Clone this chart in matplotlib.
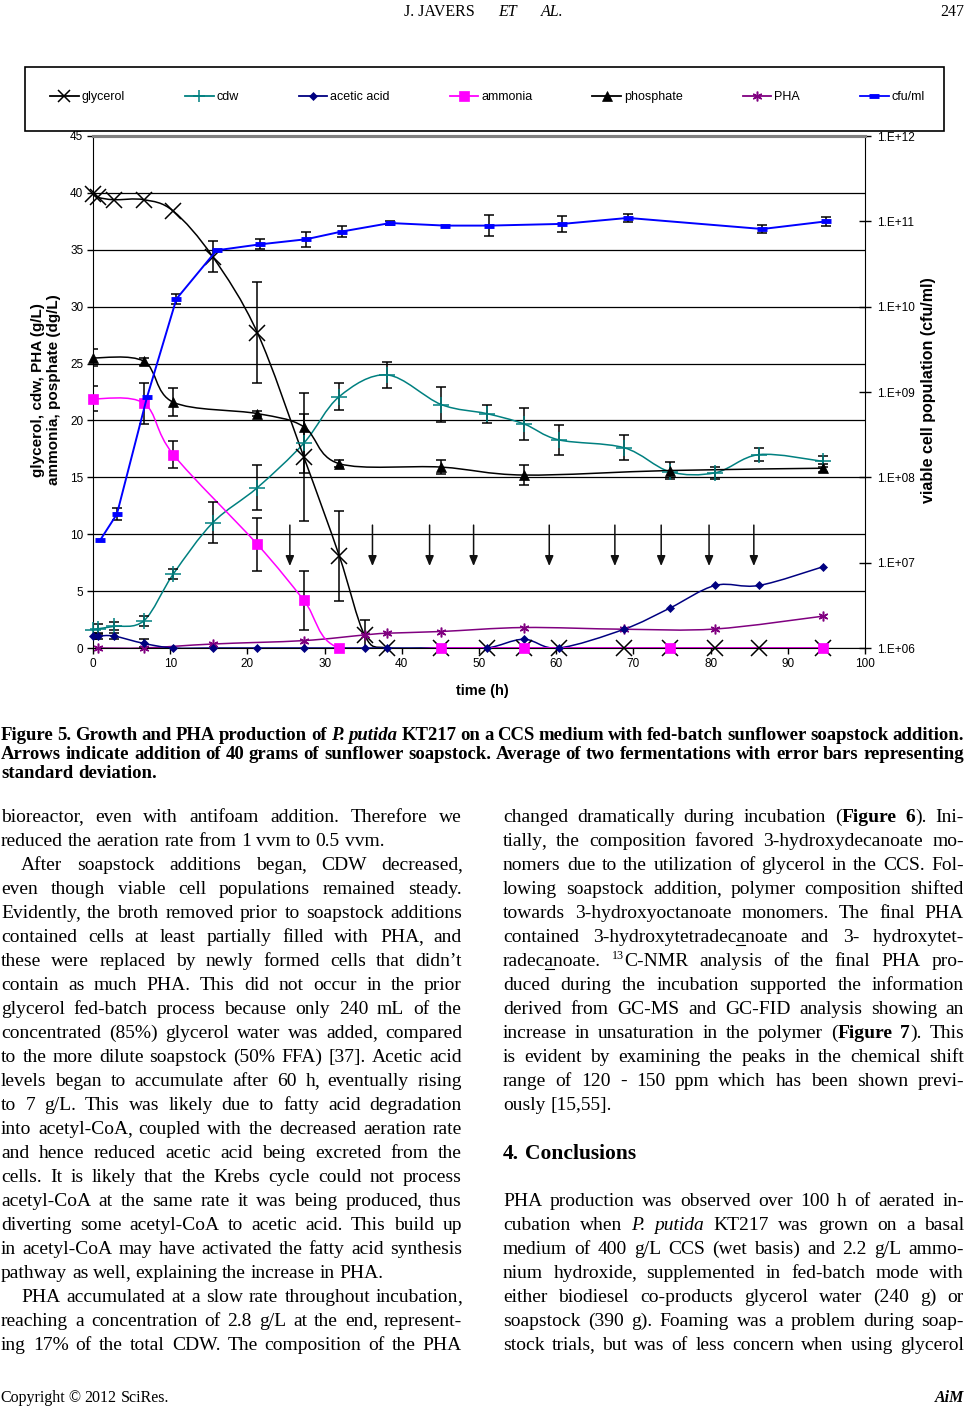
import re
import numpy as np
import matplotlib
matplotlib.use("Agg")
import matplotlib.pyplot as plt
from matplotlib.path import Path
from matplotlib.patches import PathPatch, Rectangle
from matplotlib.lines import Line2D
from matplotlib.ticker import NullLocator

plt.rcParams['font.family'] = ['Liberation Sans', 'DejaVu Sans']

W, H = 966, 1414

# ---- values (time in h) ----
t_gly = [0, 0.7, 2.7, 6.6, 10.4, 15.5, 21.3, 27.3, 31.9, 35.2, 38.1, 45.1, 51.0, 55.8, 60.3, 68.8, 74.7, 80.6, 86.3, 94.6]
gly = [39.9, 39.6, 39.4, 39.4, 38.4, 34.4, 27.7, 16.8, 8.1, 1.1, 0, 0, 0, 0, 0, 0, 0, 0, 0, 0]
gly_err = [0, 0, 0, 0, 0, 1.35, 4.45, 5.6, 3.95, 1.4, 0, 0, 0, 0, 0, 0, 0, 0, 0, 0]

t_cdw = [0, 0.7, 2.7, 6.6, 10.4, 15.5, 21.3, 27.3, 31.9, 38.1, 45.1, 51.0, 55.8, 60.3, 68.8, 74.7, 80.6, 86.3, 94.6]
cdw = [1.6, 1.7, 1.9, 2.4, 6.5, 11.0, 14.1, 18.0, 22.1, 24.0, 21.4, 20.6, 19.7, 18.3, 17.6, 15.5, 15.4, 17.0, 16.4]
cdw_err = [0, 0.45, 0.35, 0.45, 0.4, 1.8, 2.0, 2.6, 1.2, 1.15, 1.5, 0.8, 1.4, 1.3, 1.1, 0, 0.55, 0.55, 0.45]

t_ace = [0, 0.7, 2.7, 6.6, 10.4, 15.5, 21.3, 27.3, 31.9, 35.2, 38.1, 45.1, 51.0, 55.8, 60.3, 68.8, 74.7, 80.6, 86.3, 94.6]
ace = [1.05, 1.05, 1.05, 0.4, 0, 0, 0, 0, 0, 0, 0, 0, 0, 0.77, 0, 1.65, 3.5, 5.5, 5.5, 7.15]
ace_err = [0.3, 0.3, 0.3, 0.35, 0, 0, 0, 0, 0, 0, 0, 0, 0, 0, 0, 0, 0, 0, 0, 0]

t_amm = [0, 6.6, 10.4, 21.3, 27.3, 31.9, 45.1, 55.8, 74.7, 94.6]
amm = [21.9, 21.5, 17.0, 9.1, 4.2, 0, 0, 0, 0, 0]
amm_err = [1.1, 1.8, 1.2, 2.3, 2.6, 0, 0, 0, 0, 0]

t_pho = [0, 6.6, 10.4, 21.3, 27.3, 31.9, 45.1, 55.8, 74.7, 94.6]
pho = [25.5, 25.2, 21.6, 20.6, 19.45, 16.2, 15.9, 15.2, 15.6, 15.8]
pho_err = [0.75, 0.3, 1.25, 0.2, 0, 0.3, 0.65, 0.85, 0.75, 0.35]

t_pha = [0.7, 6.6, 15.5, 27.3, 35.2, 38.1, 45.1, 55.8, 68.8, 80.6, 94.6]
pha = [0, 0, 0.35, 0.65, 1.15, 1.3, 1.45, 1.8, 1.65, 1.67, 2.8]

t_cfu = [0.9, 3.1, 7.0, 10.8, 16.0, 21.6, 27.6, 32.2, 38.5, 45.6, 51.3, 60.8, 69.3, 86.7, 95.0]
cfu_log = [7.26, 7.57, 8.94, 10.09, 10.66, 10.73, 10.79, 10.88, 10.98, 10.95, 10.95, 10.97, 11.04, 10.91, 11.0]
cfu_log_err = [0, 0.073, 0, 0.055, 0, 0.059, 0.088, 0.068, 0.025, 0, 0.127, 0.091, 0.047, 0.045, 0.053]

t_feed = [25.5, 36.2, 43.6, 49.3, 59.1, 67.6, 73.6, 79.8, 85.6]

x_ticks = list(range(0, 101, 10))
y_ticks = list(range(0, 46, 5))
log_ticks = [6, 7, 8, 9, 10, 11, 12]

series_names = ['glycerol', 'cdw', 'acetic acid', 'ammonia', 'phosphate', 'PHA', 'cfu/ml']

# ---- page text ----
header_words = "J.\u00a0JAVERS *ET* *AL.*"
page_no = "247"
caption = [
    "Figure 5. Growth and PHA production of *P. putida* KT217 on a CCS medium with fed-batch sunflower soapstock addition.",
    "Arrows indicate addition of 40 grams of sunflower soapstock. Average of two fermentations with error bars representing",
    "standard deviation.",
]
left_lines = [
    "bioreactor, even with antifoam addition. Therefore we",
    "reduced the aeration rate from 1 vvm to 0.5 vvm.",
    "After soapstock additions began, CDW decreased,",
    "even though viable cell populations remained steady.",
    "Evidently, the broth removed prior to soapstock additions",
    "contained cells at least partially filled with PHA, and",
    "these were replaced by newly formed cells that didn\u2019t",
    "contain as much PHA. This did not occur in the prior",
    "glycerol fed-batch process because only 240 mL of the",
    "concentrated (85%) glycerol water was added, compared",
    "to the more dilute soapstock (50% FFA) [37]. Acetic acid",
    "levels began to accumulate after 60 h, eventually rising",
    "to 7 g/L. This was likely due to fatty acid degradation",
    "into acetyl-CoA, coupled with the decreased aeration rate",
    "and hence reduced acetic acid being excreted from the",
    "cells. It is likely that the Krebs cycle could not process",
    "acetyl-CoA at the same rate it was being produced, thus",
    "diverting some acetyl-CoA to acetic acid. This build up",
    "in acetyl-CoA may have activated the fatty acid synthesis",
    "pathway as well, explaining the increase in PHA.",
    "PHA accumulated at a slow rate throughout incubation,",
    "reaching a concentration of 2.8 g/L at the end, represent-",
    "ing 17% of the total CDW. The composition of the PHA",
]
left_indent = [2, 20]
left_last = [1, 19]
right_lines = [
    "changed dramatically during incubation (**Figure 6**). Ini-",
    "tially, the composition favored 3-hydroxydecanoate mo-",
    "nomers due to the utilization of glycerol in the CCS. Fol-",
    "lowing soapstock addition, polymer composition shifted",
    "towards 3-hydroxyoctanoate monomers. The final PHA",
    "contained 3-hydroxytetradec_a_noate and 3- hydroxytet-",
    "radec_a_noate. ^13^C-NMR analysis of the final PHA pro-",
    "duced during the incubation supported the information",
    "derived from GC-MS and GC-FID analysis showing an",
    "increase in unsaturation in the polymer (**Figure 7**). This",
    "is evident by examining the peaks in the chemical shift",
    "range of 120 - 150 ppm which has been shown previ-",
    "ously [15,55].",
]
right_last = [12]
heading = "4. Conclusions"
concl_lines = [
    "PHA production was observed over 100 h of aerated in-",
    "cubation when *P. putida* KT217 was grown on a basal",
    "medium of 400 g/L CCS (wet basis) and 2.2 g/L ammo-",
    "nium hydroxide, supplemented in fed-batch mode with",
    "either biodiesel co-products glycerol water (240 g) or",
    "soapstock (390 g). Foaming was a problem during soap-",
    "stock trials, but was of less concern when using glycerol",
]
footer_left = "Copyright \u00a9 2012 SciRes."
footer_right = "AiM"

fig = plt.figure(figsize=(W / 100, H / 100), dpi=100)
renderer = fig.canvas.get_renderer()


def fx(x):
    return x / W


def fy(y):
    return 1 - y / H


# ---------------- chart ----------------
ax = fig.add_axes([fx(93), fy(648), 772 / W, 512 / H])
ax2 = ax.twinx()
ax.set_zorder(1)
ax2.set_zorder(2)
ax2.patch.set_visible(False)


def smooth(x, y, color, lw=1.1):
    # excel style smoothed line (bezier through the points)
    p = np.column_stack([x, y]).astype(float)
    n = len(p)
    verts = [p[0]]
    codes = [Path.MOVETO]
    for i in range(n - 1):
        p0 = p[max(i - 1, 0)]
        p1 = p[i]
        p2 = p[i + 1]
        p3 = p[min(i + 2, n - 1)]
        verts += [p1 + (p2 - p0) / 6, p2 - (p3 - p1) / 6, p2]
        codes += [Path.CURVE4] * 3
    ax.add_patch(PathPatch(Path(verts, codes), fill=False, edgecolor=color, lw=lw, zorder=3))


def errbars(a, x, y, e, lw=1.1):
    x, y, e = np.asarray(x), np.asarray(y), np.asarray(e)
    m = e > 0
    a.errorbar(x[m], y[m], yerr=e[m], fmt='none', ecolor='black',
               elinewidth=lw, capsize=3.5, capthick=lw, zorder=4)


ast = (6, 2, 0)
style = {
    'glycerol': dict(color='black', marker='x', ms=11, mew=1.1),
    'cdw': dict(color='#008080', marker='+', ms=11, mew=1.1),
    'acetic acid': dict(color='#000080', marker='D', ms=4.5, mew=0.5),
    'ammonia': dict(color='#FF00FF', marker='s', ms=7, mew=0.5),
    'phosphate': dict(color='black', marker='^', ms=6.5, mew=0.5),
    'PHA': dict(color='#800080', marker=ast, ms=7, mew=1.1),
    'cfu/ml': dict(color='#0000FF', marker='_', ms=7, mew=3.5),
}

for name, tx, vy, ve in [('cdw', t_cdw, cdw, cdw_err),
                         ('glycerol', t_gly, gly, gly_err),
                         ('phosphate', t_pho, pho, pho_err),
                         ('PHA', t_pha, pha, None),
                         ('acetic acid', t_ace, ace, ace_err),
                         ('ammonia', t_amm, amm, amm_err)]:
    s = style[name]
    smooth(tx, vy, s['color'])
    if ve is not None:
        errbars(ax, tx, vy, ve)
    ax.plot(tx, vy, ls='none', marker=s['marker'], ms=s['ms'], mew=s['mew'],
            color=s['color'], mec=s['color'], zorder=5, clip_on=False)

for xa in t_feed:
    ax.annotate('', xy=(xa, 7.2), xytext=(xa, 10.8),
                arrowprops=dict(arrowstyle='-|>,head_length=0.6,head_width=0.25',
                                color='#111111', lw=1.1, shrinkA=0, shrinkB=0), zorder=3)

cfu = 10 ** np.array(cfu_log)
lo = cfu - 10 ** (np.array(cfu_log) - np.array(cfu_log_err))
hi = 10 ** (np.array(cfu_log) + np.array(cfu_log_err)) - cfu
m = np.array(cfu_log_err) > 0
ax2.errorbar(np.array(t_cfu)[m], cfu[m], yerr=[lo[m], hi[m]], fmt='none', ecolor='black',
             elinewidth=1.1, capsize=3.5, capthick=1.1, zorder=4)
s = style['cfu/ml']
ax2.plot(t_cfu, cfu, color=s['color'], lw=1.4, marker='_', ms=s['ms'], mew=s['mew'], zorder=5)

ax.set_xlim(0, 100)
ax.set_ylim(0, 45)
ax.set_xticks(x_ticks)
ax.set_yticks(y_ticks)
ax.yaxis.grid(True, color='black', lw=0.9)
ax.set_axisbelow(True)
ax.tick_params(axis='both', direction='out', length=4, width=1, labelsize=8.5, colors='black', pad=3)

ax2.set_yscale('log')
ax2.set_ylim(1e6, 1e12)
ax2.set_yticks([10.0 ** k for k in log_ticks])
ax2.set_yticklabels(['1.E+%02d' % k for k in log_ticks])
ax2.yaxis.set_minor_locator(NullLocator())
ax2.tick_params(axis='y', direction='inout', length=8, width=1, labelsize=8.5, pad=5)

for a in (ax, ax2):
    a.spines['top'].set_color('#808080')
    a.spines['top'].set_linewidth(2.2)
ax.spines['right'].set_visible(False)
ax2.spines['left'].set_visible(False)
ax2.spines['bottom'].set_visible(False)
ax2.spines['right'].set_color('black')

fig.text(fx(46), fy(390), "glycerol, cdw, PHA (g/L)\nammonia, posphate (dg/L)", rotation=90,
         ha='center', va='center', fontsize=11, weight='bold', linespacing=1.15)
fig.text(fx(929), fy(390), "viable cell population (cfu/ml)", rotation=90,
         ha='center', va='center', fontsize=11.5, weight='bold')
fig.text(fx(482), fy(691), "time (h)", ha='center', va='center', fontsize=10.5, weight='bold')

# legend in its own box above the plot
fig.add_artist(Rectangle((fx(25), fy(131)), 919 / W, 64 / H, transform=fig.transFigure,
                         fill=False, edgecolor='black', lw=1.2))
handles = []
for name in series_names:
    s = style[name]
    handles.append(Line2D([0], [0], color=s['color'], lw=1.3, marker=s['marker'],
                          ms=min(s['ms'], 8), mew=s['mew'], mec=s['color']))
fig.legend(handles, series_names, loc='center', mode='expand', ncol=7,
           bbox_to_anchor=(fx(45), fy(115), 885 / W, 36 / H), frameon=False,
           handlelength=2.3, handletextpad=0.25, borderaxespad=0,
           prop=dict(family='Liberation Sans', size=9))

# ---------------- page text ----------------
SERIF = 'Liberation Serif'


def parse(line, bold=False, italic=False):
    st = {'b': bold, 'i': italic, 's': False, 'u': False}
    segs = []
    for tok in re.findall(r'\*\*|\*|\^|_|[^*^_]+', line):
        if tok == '**':
            st['b'] = not st['b']
        elif tok == '*':
            st['i'] = not st['i']
        elif tok == '^':
            st['s'] = not st['s']
        elif tok == '_':
            st['u'] = not st['u']
        else:
            segs.append((tok, dict(st)))
    return segs


def make_text(txt, st, fs):
    return fig.text(0, 0, txt, fontsize=fs * (0.62 if st['s'] else 1), family=SERIF,
                    weight='bold' if st['b'] else 'normal',
                    style='italic' if st['i'] else 'normal',
                    va='baseline', ha='left')


def width(t):
    return t.get_window_extent(renderer=renderer).width


def rich_line(x0, x1, yb, line, size, align='justify', bold=False, italic=False):
    # split into words, each word a list of runs of same font; underline kept as char ranges
    words = [[]]
    for txt, st in parse(line, bold, italic):
        parts = txt.split(' ')
        for k, p in enumerate(parts):
            if k > 0:
                words.append([])
            if not p:
                continue
            key = (st['b'], st['i'], st['s'])
            w = words[-1]
            if w and w[-1][1] == key:
                start = len(w[-1][0])
                w[-1][0] += p
            else:
                start = 0
                w.append([p, key, []])
            if st['u']:
                w[-1][2].append((start, start + len(p)))
    words = [w for w in words if w]
    # a trailing comma gets its own run so the word keeps the common baseline
    for w in words:
        last = w[-1]
        if len(last[0]) > 1 and last[0].endswith(',') and not last[2]:
            last[0] = last[0][:-1]
            w.append([',', last[1] + ('c',), []])
    scale = 1.0
    while True:
        fs = size * scale
        px_size = fs * 100 / 72
        items, widths = [], []
        for w in words:
            off = 0
            row = []
            for txt, key, ul in w:
                st = {'b': key[0], 'i': key[1], 's': key[2]}
                t = make_text(txt, st, fs)
                wid = width(t)
                if txt == ',':
                    off -= 0.07 * px_size
                row.append((t, off, st, ul, txt, fs))
                off += wid
            items.append(row)
            widths.append(off)
        space = 0.25 * px_size
        total = sum(widths)
        n = len(words)
        if align == 'justify' and n > 1:
            gap = (x1 - x0 - total) / (n - 1)
            if gap < 0.6 * space and scale > 0.8:
                for row in items:
                    for it in row:
                        it[0].remove()
                scale *= 0.985
                continue
        else:
            gap = space
        break
    full = total + gap * (n - 1)
    if align == 'center':
        x = (x0 + x1) / 2 - full / 2
    elif align == 'right':
        x = x1 - full
    else:
        x = x0
    for row, ww in zip(items, widths):
        for t, off, st, ul, txt, f in row:
            yy = yb - (0.38 * px_size if st['s'] else 0)
            t.set_position((fx(x + off), fy(yy)))
            for a, b in ul:
                pa = make_text(txt[:b], st, f)
                wb = width(pa)
                pa.remove()
                wa = 0
                if a > 0:
                    pa = make_text(txt[:a], st, f)
                    wa = width(pa)
                    pa.remove()
                fig.add_artist(Line2D([fx(x + off + wa), fx(x + off + wb)], [fy(yb + 2.5)] * 2,
                                      transform=fig.transFigure, color='black', lw=0.8))
        x += ww + gap


# running header and footer
rich_line(404, 563, 16, header_words, 11.5)
rich_line(900, 964, 16, page_no, 11.5, align='right')
rich_line(0, 300, 1402, footer_left, 11.5, align='left')
rich_line(700, 964, 1402, footer_right, 11.5, align='right', bold=True, italic=True)

# caption
for i, line in enumerate(caption):
    rich_line(1, 964, 740 + 19 * i, line, 13.5, bold=True,
              align='left' if i == len(caption) - 1 else 'justify')

BODY = 14.0
for i, line in enumerate(left_lines):
    x0 = 21 if i in left_indent else 1
    rich_line(x0, 462, 822 + 24 * i, line, BODY, align='left' if i in left_last else 'justify')

for i, line in enumerate(right_lines):
    rich_line(503, 964, 822 + 24 * i, line, BODY, align='left' if i in right_last else 'justify')

rich_line(503, 964, 1159, heading, 15.5, align='left', bold=True)

for i, line in enumerate(concl_lines):
    rich_line(503, 964, 1206 + 24 * i, line, BODY)

fig.savefig('out.png', dpi=100)
